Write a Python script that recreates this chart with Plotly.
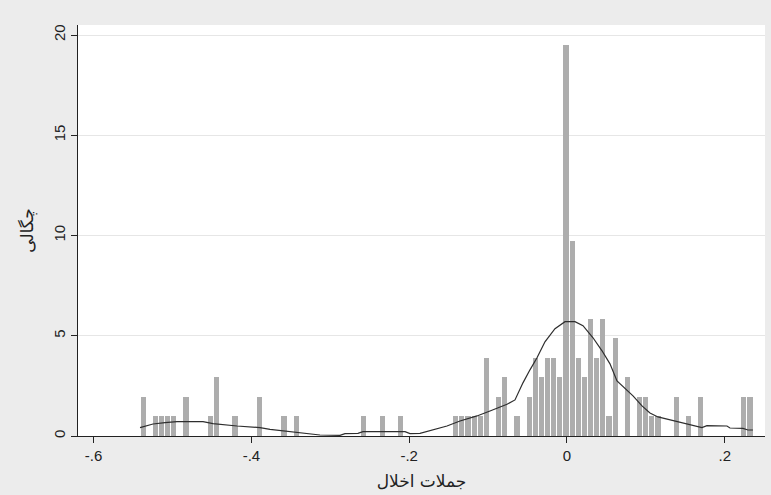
import plotly.graph_objects as go

# Histogram: 100 equal-width bins, counts per bin
bin_start = -0.5412
bin_width = 0.00777
counts = [2, 0, 1, 1, 1, 1, 0, 2, 0, 0,
          0, 1, 3, 0, 0, 1, 0, 0, 0, 2,
          0, 0, 0, 1, 0, 1, 0, 0, 0, 0,
          0, 0, 0, 0, 0, 0, 1, 0, 0, 1,
          0, 0, 1, 0, 0, 0, 0, 0, 0, 0,
          0, 1, 1, 1, 1, 1, 4, 0, 2, 3,
          0, 1, 0, 2, 4, 3, 4, 4, 3, 20,
          10, 4, 3, 6, 4, 6, 1, 5, 0, 3,
          0, 2, 2, 1, 1, 0, 0, 2, 0, 1,
          0, 2, 0, 0, 0, 0, 0, 0, 2, 2]

# Kernel density curve
kde_x = [-0.5412, -0.5247, -0.5095, -0.4943, -0.4613, -0.4487, -0.4183, -0.3891,
         -0.3764, -0.3600, -0.3384, -0.3257, -0.3131, -0.2877, -0.2814, -0.2649,
         -0.2586, -0.2053, -0.1990, -0.1863, -0.1698, -0.1521, -0.1356, -0.1141,
         -0.0976, -0.0760, -0.0659, -0.0558, -0.0469, -0.0380, -0.0279, -0.0152,
         -0.0025, 0.0101, 0.0203, 0.0330, 0.0444, 0.0545, 0.0634, 0.0735,
         0.0837, 0.0951, 0.1052, 0.1153, 0.1369, 0.1559, 0.1711, 0.1774,
         0.2028, 0.2066, 0.2231, 0.2294, 0.2357]
kde_y = [0.42, 0.60, 0.67, 0.72, 0.72, 0.62, 0.50, 0.42,
         0.33, 0.25, 0.17, 0.10, 0.05, 0.03, 0.12, 0.13,
         0.22, 0.22, 0.12, 0.13, 0.30, 0.50, 0.75, 1.00,
         1.25, 1.58, 1.80, 2.65, 3.30, 3.90, 4.70, 5.35,
         5.70, 5.70, 5.50, 4.90, 4.25, 3.60, 2.75, 2.40,
         2.00, 1.50, 1.15, 0.95, 0.75, 0.57, 0.42, 0.52,
         0.50, 0.40, 0.38, 0.30, 0.30]

x_tickvals = [-0.6, -0.4, -0.2, 0, 0.2]
x_ticktext = ["-.6", "-.4", "-.2", "0", ".2"]
y_tickvals = [0, 5, 10, 15, 20]
x_title = "جملات اخلال"
y_title = "چگالی"

n_total = sum(counts)
centers = [bin_start + (i + 0.5) * bin_width for i in range(len(counts))]
density = [c / (n_total * bin_width) for c in counts]

fig = go.Figure()
fig.add_trace(go.Bar(
    x=centers, y=density, width=bin_width * 0.84,
    marker=dict(color="#adadad", line=dict(width=0)),
    showlegend=False, hoverinfo="skip"))
fig.add_trace(go.Scatter(
    x=kde_x, y=kde_y, mode="lines",
    line=dict(color="#2e2e2e", width=1.2),
    showlegend=False, hoverinfo="skip"))

font_fam = "Liberation Sans, Arial, DejaVu Sans, sans-serif"
fig.update_layout(
    width=771, height=495,
    margin=dict(l=78, r=6, t=25, b=59),
    paper_bgcolor="#ececec",
    plot_bgcolor="#ffffff",
    bargap=0,
    font=dict(family=font_fam, size=14, color="#222222"),
    xaxis=dict(
        range=[-0.6198, 0.251],
        automargin=False,
        tickvals=x_tickvals, ticktext=x_ticktext,
        ticks="outside", ticklen=6, tickwidth=1, tickcolor="#222222",
        showline=True, linecolor="#222222", linewidth=1,
        showgrid=False, zeroline=False,
        tickfont=dict(size=15, color="#222222"),
        title=dict(text=x_title, standoff=12,
                   font=dict(family="DejaVu Sans, sans-serif", size=17, color="#222222")),
    ),
    yaxis=dict(
        range=[0, 20.5],
        automargin=False,
        tickvals=y_tickvals,
        ticks="outside", ticklen=6, tickwidth=1, tickcolor="#222222",
        tickangle=-90,
        showline=True, linecolor="#222222", linewidth=1,
        showgrid=True, gridcolor="#e6e6e6", gridwidth=1,
        zeroline=False,
        tickfont=dict(size=15, color="#222222"),
        title=dict(text=y_title, standoff=13,
                   font=dict(family="DejaVu Sans, sans-serif", size=17, color="#222222")),
    ),
)

fig.write_html("out.html",
               config={"displayModeBar": False, "staticPlot": True},
               post_script="document.body.style.margin='0';document.body.style.overflow='hidden';")
